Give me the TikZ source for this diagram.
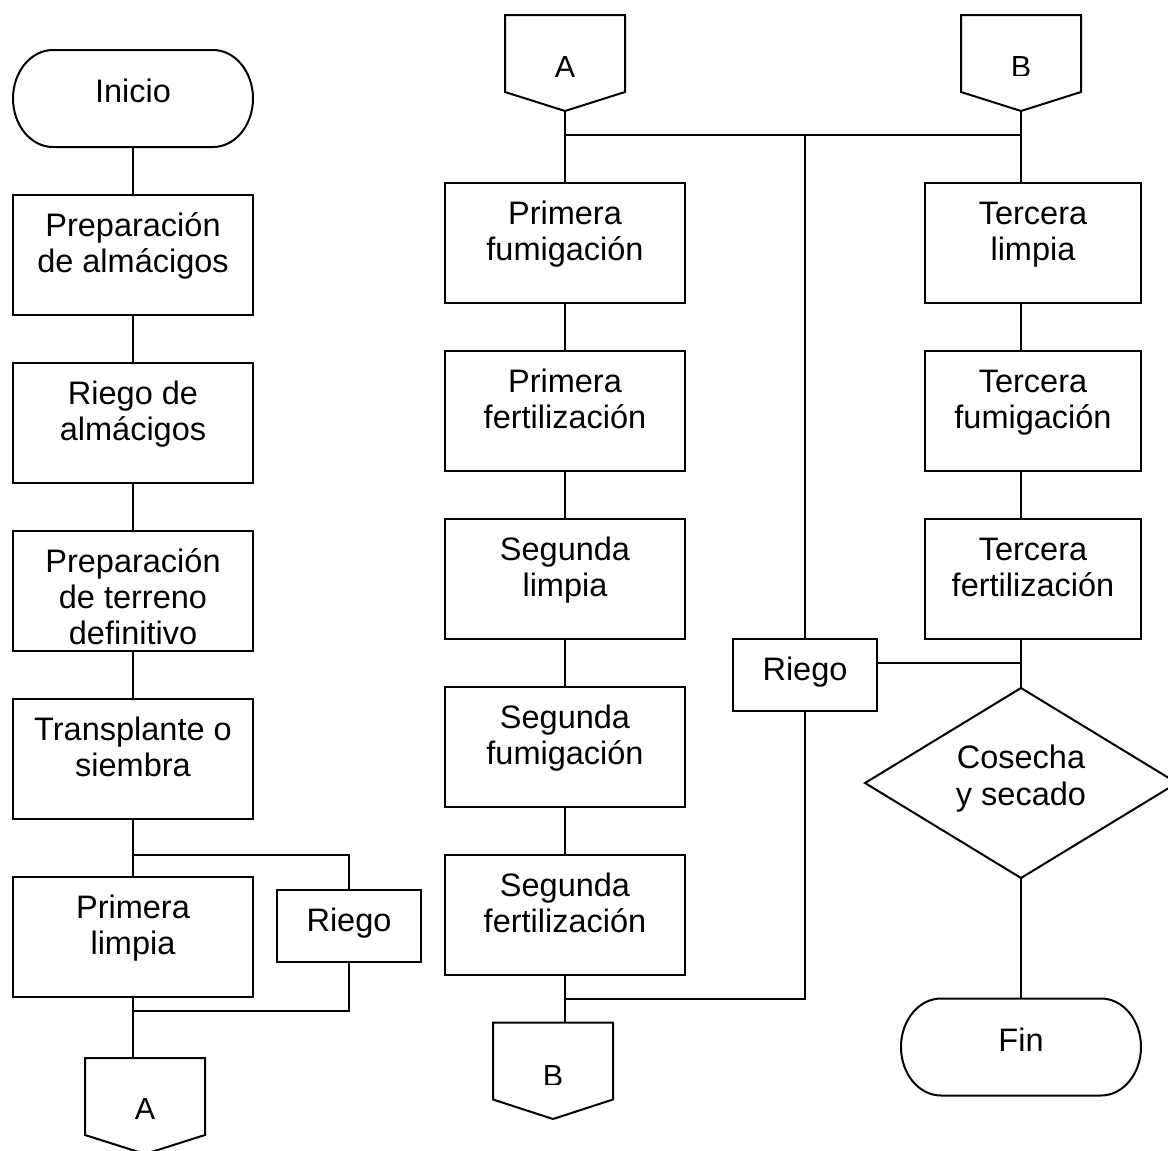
\documentclass[tikz,border=0pt]{standalone}
\usepackage{fontspec}
\setmainfont{Liberation Sans}
\usetikzlibrary{shapes.geometric}
\newcommand\flowfont{\fontsize{32.5}{36}\selectfont}
\newcommand\letterfont{\fontsize{30.5}{34}\selectfont}
\tikzset{
  ln/.style={line width=2pt},
  procbox/.style={draw, line width=2pt, minimum width=240, minimum height=120, inner sep=0, outer sep=0},
  narrowbox/.style={procbox, minimum width=216},
  riegobox/.style={procbox, minimum width=144, minimum height=72},
  terminal/.style={minimum width=240, minimum height=97, inner sep=0, outer sep=0},
  offpage/.style={minimum width=120, minimum height=77, inner sep=0, outer sep=0},
  txt/.style={font=\flowfont, anchor=base, inner sep=0, outer sep=0},
  letter/.style={txt, font=\letterfont},
}
% outline of a terminal node with elliptical ends
\newcommand\termoutline[1]{%
  \draw[ln] ([xshift=40pt]#1.north west) -- ([xshift=-40pt]#1.north east)
    arc[start angle=90, end angle=-90, x radius=40pt, y radius=48.5pt]
    -- ([xshift=40pt]#1.south west)
    arc[start angle=270, end angle=90, x radius=40pt, y radius=48.5pt] -- cycle;}
\begin{document}
\begin{tikzpicture}[x=1pt, y=-1pt]
\useasboundingbox (0,0) rectangle (1168,1151);
\fill[white] (0,0) rectangle (1168,1151);

% ---------- left column ----------
\node[terminal] (inicio) at (133,98.5) {};
\termoutline{inicio}
\node[txt] (tIni) at (133,102) {Inicio};

\node[procbox] (lc1) at (133,255) {};
\node[txt] (t1a) at (133,236) {Preparación};
\node[txt] (t1b) at (133,272) {de almácigos};

\node[procbox] (lc2) at (133,423) {};
\node[txt] (t2a) at (133,404) {Riego de};
\node[txt] (t2b) at (133,440) {almácigos};

\node[procbox] (lc3) at (133,591) {};
\node[txt] (t3a) at (133,572) {Preparación};
\node[txt] (t3b) at (133,608) {de terreno};
\node[txt] (t3c) at (133,644) {definitivo};

\node[procbox] (lc4) at (133,759) {};
\node[txt] (t4a) at (133,740) {Transplante o};
\node[txt] (t4b) at (133,776) {siembra};

\node[procbox] (lc5) at (133,937) {};
\node[txt] (t5a) at (133,918) {Primera};
\node[txt] (t5b) at (133,954) {limpia};

\node[riegobox] (riego1) at (349,926) {};
\node[txt] (tR1) at (349,931) {Riego};

\node[offpage] (A2) at (145,1096.5) {};
\coordinate (A2t) at (145,1154);
\draw[ln] (A2.south west) -- (A2.north west) -- (A2.north east) -- (A2.south east) -- (A2t) -- cycle;
\node[letter] (tA2) at (145,1119) {A};

\draw[ln] (inicio) -- (lc1);
\draw[ln] (lc1) -- (lc2);
\draw[ln] (lc2) -- (lc3);
\draw[ln] (lc3) -- (lc4);
\draw[ln] (lc4) -- (lc5);
\coordinate (br1) at (133,855);
\coordinate (br2) at (349,855);
\coordinate (mg1) at (133,1011);
\coordinate (mg2) at (349,1011);
\draw[ln] (br1) -- (br2) -- (riego1);
\draw[ln] (riego1) -- (mg2) -- (mg1);
\draw[ln] (lc5.south) -- (lc5.south |- A2.north);

% ---------- middle column ----------
\node[offpage] (A1) at (565,53.5) {};
\coordinate (A1t) at (565,111);
\draw[ln] (A1.south west) -- (A1.north west) -- (A1.north east) -- (A1.south east) -- (A1t) -- cycle;
\node[letter] (tA1) at (565,77) {A};

\node[procbox] (mc1) at (565,243) {};
\node[txt] (m1a) at (565,224) {Primera};
\node[txt] (m1b) at (565,260) {fumigación};

\node[procbox] (mc2) at (565,411) {};
\node[txt] (m2a) at (565,392) {Primera};
\node[txt] (m2b) at (565,428) {fertilización};

\node[procbox] (mc3) at (565,579) {};
\node[txt] (m3a) at (565,560) {Segunda};
\node[txt] (m3b) at (565,596) {limpia};

\node[procbox] (mc4) at (565,747) {};
\node[txt] (m4a) at (565,728) {Segunda};
\node[txt] (m4b) at (565,764) {fumigación};

\node[procbox] (mc5) at (565,915) {};
\node[txt] (m5a) at (565,896) {Segunda};
\node[txt] (m5b) at (565,932) {fertilización};

\node[offpage] (B2) at (553,1061) {};
\coordinate (B2t) at (553,1119);
\draw[ln] (B2.south west) -- (B2.north west) -- (B2.north east) -- (B2.south east) -- (B2t) -- cycle;
\begin{scope}
  \clip (493,1023) rectangle (613,1084.5);
  \node[letter] (tB2) at (553,1086.5) {B};
\end{scope}

\node[riegobox] (riego2) at (805,675) {};
\node[txt] (tR2) at (805,680) {Riego};

\draw[ln] (A1t) -- (mc1);
\draw[ln] (mc1) -- (mc2);
\draw[ln] (mc2) -- (mc3);
\draw[ln] (mc3) -- (mc4);
\draw[ln] (mc4) -- (mc5);
\draw[ln] (mc5.south) -- (mc5.south |- B2.north);

% ---------- right column ----------
\node[offpage] (B1) at (1021,53.5) {};
\coordinate (B1t) at (1021,111);
\draw[ln] (B1.south west) -- (B1.north west) -- (B1.north east) -- (B1.south east) -- (B1t) -- cycle;
\begin{scope}
  \clip (961,15) rectangle (1081,75.5);
  \node[letter] (tB1) at (1021,77.5) {B};
\end{scope}

\node[narrowbox] (rc1) at (1033,243) {};
\node[txt] (r1a) at (1033,224) {Tercera};
\node[txt] (r1b) at (1033,260) {limpia};

\node[narrowbox] (rc2) at (1033,411) {};
\node[txt] (r2a) at (1033,392) {Tercera};
\node[txt] (r2b) at (1033,428) {fumigación};

\node[narrowbox] (rc3) at (1033,579) {};
\node[txt] (r3a) at (1033,560) {Tercera};
\node[txt] (r3b) at (1033,596) {fertilización};

\node[draw, ln, diamond, minimum width=312, minimum height=190, inner sep=0, outer sep=0] (cos) at (1021,783) {};
\node[txt] (c1) at (1021,768) {Cosecha};
\node[txt] (c2) at (1021,805) {y secado};

\node[terminal] (fin) at (1021,1047) {};
\termoutline{fin}
\node[txt] (tFin) at (1021,1051) {Fin};

% ---------- junctions between columns ----------
\coordinate (j1) at (565,135);
\coordinate (j2) at (1021,135);
\coordinate (j3) at (805,135);
\coordinate (j4) at (805,999);
\coordinate (j5) at (565,999);
\draw[ln] (j1) -- (j2);
\draw[ln] (j3) -- (riego2);
\draw[ln] (riego2) -- (j4) -- (j5);

\draw[ln] (B1t) -- (B1t |- rc1.north);
\draw[ln] (rc1.south -| B1t) -- (rc2.north -| B1t);
\draw[ln] (rc2.south -| B1t) -- (rc3.north -| B1t);
\draw[ln] (rc3.south -| B1t) -- (cos.north);
\draw[ln] ([yshift=12pt]riego2.east) -- ([yshift=12pt]riego2.east -| cos.north);
\draw[ln] (cos) -- (fin);
\end{tikzpicture}
\end{document}
